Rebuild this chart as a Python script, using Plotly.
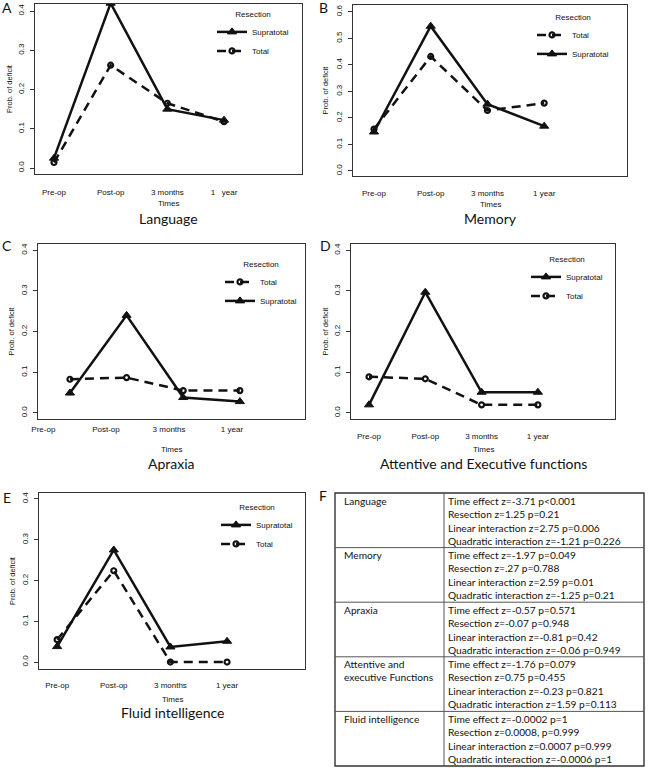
import plotly.graph_objects as go

# ---------------- data ----------------
times = ["Pre-op", "Post-op", "3 months", "1 year"]
times_language = ["Pre-op", "Post-op", "3 months", "1\u00a0\u00a0\u00a0year"]

language_supratotal = [0.025, 0.420, 0.150, 0.122]
language_total = [0.014, 0.262, 0.165, 0.118]

memory_total = [0.158, 0.432, 0.228, 0.256]
memory_supratotal = [0.147, 0.546, 0.252, 0.169]

apraxia_total = [0.083, 0.087, 0.055, 0.055]
apraxia_supratotal = [0.049, 0.240, 0.038, 0.028]

attentive_supratotal = [0.020, 0.297, 0.051, 0.051]
attentive_total = [0.089, 0.084, 0.020, 0.020]

fluid_supratotal = [0.038, 0.275, 0.037, 0.051]
fluid_total = [0.055, 0.224, 0.000, 0.000]

panel_titles = ["Language", "Memory", "Apraxia",
                "Attentive and Executive functions", "Fluid intelligence"]
panel_letters = ["A", "B", "C", "D", "E"]

table_domains = ["Language", "Memory", "Apraxia",
                 "Attentive and<br>executive Functions", "Fluid intelligence"]
table_stats = [
    ["Time effect z=-3.71 p<0.001", "Resection z=1.25 p=0.21",
     "Linear interaction z=2.75 p=0.006", "Quadratic interaction z=-1.21 p=0.226"],
    ["Time effect z=-1.97 p=0.049", "Resection z=.27 p=0.788",
     "Linear interaction z=2.59 p=0.01", "Quadratic interaction z=-1.25 p=0.21"],
    ["Time effect z=-0.57 p=0.571", "Resection z=-0.07 p=0.948",
     "Linear interaction z=-0.81 p=0.42", "Quadratic interaction z=-0.06 p=0.949"],
    ["Time effect z=-1.76 p=0.079", "Resection z=0.75 p=0.455",
     "Linear interaction z=-0.23 p=0.821", "Quadratic interaction z=1.59 p=0.113"],
    ["Time effect z=-0.0002 p=1", "Resection z=0.0008, p=0.999",
     "Linear interaction z=0.0007 p=0.999", "Quadratic interaction z=-0.0006 p=1"],
]

# series per panel, in legend order
panel_series = [
    [("Supratotal", language_supratotal), ("Total", language_total)],
    [("Total", memory_total), ("Supratotal", memory_supratotal)],
    [("Total", apraxia_total), ("Supratotal", apraxia_supratotal)],
    [("Supratotal", attentive_supratotal), ("Total", attentive_total)],
    [("Supratotal", fluid_supratotal), ("Total", fluid_total)],
]
panel_ticklabels = [times_language, times, times, times, times]

# ---------------- layout geometry (reference pixels) ----------------
W, H = 648, 768
geo = [
    dict(box=(35, 302, 4, 174), xr=(0.665, 5.376), yr=(-0.0153, 0.418), ymax=0.4,
         tv=[1, 2, 3, 4], so=10, times_y=203, title_y=218, ytitle_x=10, letter=(7, 8),
         leg=(212, 7)),
    dict(box=(353, 627, 5, 176), xr=(0.63, 5.46), yr=(-0.019, 0.626), ymax=0.6,
         tv=[1, 2, 3, 4], so=9, times_y=205, title_y=218, ytitle_x=325, letter=(323, 8),
         leg=(532, 10)),
    dict(box=(38, 305, 244, 419), xr=(0.436, 5.15), yr=(-0.0148, 0.4155), ymax=0.4,
         tv=[0.53, 1.635, 2.75, 3.86], so=2, times_y=449, title_y=463, ytitle_x=11,
         letter=(7, 245), leg=(220, 257)),
    dict(box=(351, 615, 244, 419), xr=(0.68, 5.37), yr=(-0.0148, 0.4155), ymax=0.4,
         tv=[1, 2, 3, 4], so=9, times_y=449, title_y=463, ytitle_x=325, letter=(325, 245),
         leg=(526, 252)),
    dict(box=(39, 305, 493, 669), xr=(0.68, 5.376), yr=(-0.017, 0.4147), ymax=0.4,
         tv=[1, 2, 3, 4], so=8, times_y=699, title_y=712, ytitle_x=12, letter=(7, 497),
         leg=(216, 500)),
]

TICKFONT = dict(family="Liberation Sans, Arial", size=8, color="#111")
TITLEFONT = dict(family="Lato, Open Sans", size=14, color="#111")

styles = {
    "Supratotal": dict(line=dict(color="#111", width=2.5, dash="solid"),
                       marker=dict(symbol="triangle-up", size=8, color="#111",
                                   line=dict(color="#111", width=1))),
    "Total": dict(line=dict(color="#111", width=2.5, dash="9px,6px"),
                  marker=dict(symbol="circle-open", size=5, color="#111",
                              line=dict(color="#111", width=2.2))),
}

fig = go.Figure()
annotations = []
shapes = []

for i, (series, g) in enumerate(zip(panel_series, geo)):
    n = i + 1
    xa = "x" if n == 1 else f"x{n}"
    ya = "y" if n == 1 else f"y{n}"
    lg = "legend" if n == 1 else f"legend{n}"
    for name, vals in series:
        st = styles[name]
        fig.add_trace(go.Scatter(
            x=[1, 2, 3, 4], y=vals, name=name, mode="lines+markers",
            xaxis=xa, yaxis=ya, legend=lg,
            line=st["line"], marker=st["marker"], showlegend=True,
        ))
    l, r, t, b = g["box"]
    xkey = "xaxis" if n == 1 else f"xaxis{n}"
    ykey = "yaxis" if n == 1 else f"yaxis{n}"
    nt = int(round(g["ymax"] / 0.1)) + 1
    yt = [round(k * 0.1, 1) for k in range(nt)]
    fig.update_layout(**{
        xkey: dict(domain=[l / W, r / W], range=list(g["xr"]), anchor=ya,
                   tickvals=g["tv"], ticktext=panel_ticklabels[i], ticks="",
                   ticklabelstandoff=g["so"], tickfont=TICKFONT, automargin=False,
                   showline=True, mirror=True, linecolor="#333", linewidth=1.3,
                   showgrid=False, zeroline=False, fixedrange=True),
        ykey: dict(domain=[1 - b / H, 1 - t / H], range=list(g["yr"]), anchor=xa,
                   tickvals=yt, tickformat=".1f", tickangle=-90, ticks="outside",
                   ticklen=4, tickwidth=1, tickcolor="#333", tickfont=TICKFONT,
                   ticklabelstandoff=3, automargin=False,
                   showline=True, mirror=True, linecolor="#333", linewidth=1.3,
                   showgrid=False, zeroline=False, fixedrange=True),
        lg: dict(x=g["leg"][0] / W, y=1 - g["leg"][1] / H, xanchor="left", yanchor="top",
                 bgcolor="rgba(0,0,0,0)", borderwidth=0,
                 font=dict(family="Liberation Sans, Arial", size=8, color="#111"),
                 title=dict(text="Resection", side="top center",
                            font=dict(family="Liberation Sans, Arial", size=8, color="#111")),
                 tracegroupgap=0, itemwidth=30),
    })
    cx = (l + r) / 2
    annotations += [
        dict(text="Times", x=cx / W, y=1 - g["times_y"] / H, xref="paper", yref="paper",
             showarrow=False, font=TICKFONT, xanchor="center", yanchor="middle"),
        dict(text=panel_titles[i], x=cx / W, y=1 - g["title_y"] / H, xref="paper",
             yref="paper", showarrow=False, font=TITLEFONT, xanchor="center",
             yanchor="middle"),
        dict(text="Prob. of deficit", x=g["ytitle_x"] / W, y=1 - ((t + b) / 2) / H,
             xref="paper", yref="paper", showarrow=False, textangle=-90,
             font=dict(family="Liberation Sans, Arial", size=7.5, color="#111"),
             xanchor="center", yanchor="middle"),
        dict(text=panel_letters[i], x=g["letter"][0] / W, y=1 - g["letter"][1] / H,
             xref="paper", yref="paper", showarrow=False, font=TITLEFONT,
             xanchor="center", yanchor="middle"),
    ]

annotations.append(dict(text="F", x=323 / W, y=1 - 495 / H, xref="paper", yref="paper",
                        showarrow=False, font=TITLEFONT, xanchor="center",
                        yanchor="middle"))

# ---------------- table F (grid derived from the number of rows) ----------------
T_LEFT, T_MID, T_RIGHT, T_TOP, T_BOTTOM = 335, 444, 644, 493, 766
n_rows = len(table_domains)
row_h = (T_BOTTOM - T_TOP) / n_rows
TABLEFONT = dict(family="Lato, Arial", size=10.2, color="#111")
LINE_COL = "#555"

shapes.append(dict(type="rect", xref="paper", yref="paper",
                   x0=T_LEFT / W, x1=T_RIGHT / W, y0=1 - T_BOTTOM / H, y1=1 - T_TOP / H,
                   line=dict(color="#333", width=1.4), fillcolor="rgba(0,0,0,0)"))
shapes.append(dict(type="line", xref="paper", yref="paper",
                   x0=T_MID / W, x1=T_MID / W, y0=1 - T_BOTTOM / H, y1=1 - T_TOP / H,
                   line=dict(color=LINE_COL, width=1)))
for k in range(n_rows):
    top = T_TOP + k * row_h
    if k > 0:
        shapes.append(dict(type="line", xref="paper", yref="paper",
                           x0=T_LEFT / W, x1=T_RIGHT / W, y0=1 - top / H, y1=1 - top / H,
                           line=dict(color=LINE_COL, width=1)))
    annotations.append(dict(text=table_domains[k], x=(T_LEFT + 7) / W,
                            y=1 - (top - 0.5) / H, xref="paper", yref="paper",
                            showarrow=False, font=TABLEFONT, align="left",
                            xanchor="left", yanchor="top"))
    annotations.append(dict(text="<br>".join(table_stats[k]), x=(T_MID + 2) / W,
                            y=1 - (top - 0.5) / H, xref="paper", yref="paper",
                            showarrow=False, font=TABLEFONT, align="left",
                            xanchor="left", yanchor="top"))

fig.update_layout(
    width=W, height=H, margin=dict(l=0, r=0, t=0, b=0, autoexpand=False),
    paper_bgcolor="white", plot_bgcolor="white",
    annotations=annotations, shapes=shapes, showlegend=True,
)

fig.write_html(
    "out.html",
    config={"displayModeBar": False},
    post_script="document.body.style.margin='0px';document.body.style.overflow='hidden';",
)
